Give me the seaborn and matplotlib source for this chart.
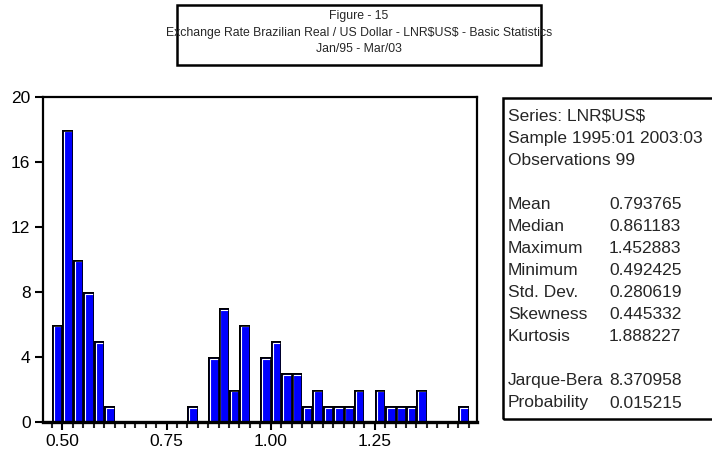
import matplotlib
matplotlib.use("Agg")
import matplotlib.pyplot as plt
import matplotlib.patheffects as pe
from matplotlib.patches import Rectangle
from matplotlib.ticker import MultipleLocator
import numpy as np
import seaborn as sns

# histogram of LNR$US$ (bin width 0.025)
bin_left = [0.475, 0.500, 0.525, 0.550, 0.575, 0.600, 0.625, 0.650, 0.675, 0.700,
            0.725, 0.750, 0.775, 0.800, 0.825, 0.850, 0.875, 0.900, 0.925, 0.950,
            0.975, 1.000, 1.025, 1.050, 1.075, 1.100, 1.125, 1.150, 1.175, 1.200,
            1.225, 1.250, 1.275, 1.300, 1.325, 1.350, 1.375, 1.400, 1.425, 1.450]
counts = [6, 18, 10, 8, 5, 1, 0, 0, 0, 0,
          0, 0, 0, 1, 0, 4, 7, 2, 6, 0,
          4, 5, 3, 3, 1, 2, 1, 1, 1, 2,
          0, 2, 1, 1, 1, 2, 0, 0, 0, 1]
bin_width = 0.025

x_ticks = [0.50, 0.75, 1.00, 1.25]
x_tick_labels = ["0.50", "0.75", "1.00", "1.25"]
y_ticks = [0, 4, 8, 12, 16, 20]

title_lines = ["Figure - 15",
               "Exchange Rate Brazilian Real / US Dollar - LNR\\$US\\$ - Basic Statistics",
               "Jan/95 - Mar/03"]
header_lines = ["Series: LNR\\$US\\$", "Sample 1995:01 2003:03", "Observations 99"]
stat_names = ["Mean", "Median", "Maximum", "Minimum", "Std. Dev.", "Skewness", "Kurtosis"]
stat_values = ["0.793765", "0.861183", "1.452883", "0.492425", "0.280619", "0.445332", "1.888227"]
test_names = ["Jarque-Bera", "Probability"]
test_values = ["8.370958", "0.015215"]

sns.set_style("ticks")
plt.rcParams["font.family"] = ["Liberation Sans", "DejaVu Sans"]

W, H = 712, 454
fig = plt.figure(figsize=(W / 100, H / 100), dpi=100)

def fx(px):
    return px / W

def fy(py):
    return 1 - py / H

# histogram axes
ax = fig.add_axes([fx(43), fy(422), fx(477 - 43), (422 - 97) / H])
centers = np.array(bin_left) + bin_width / 2
sns.histplot(x=centers, weights=counts, binwidth=bin_width,
             binrange=(bin_left[0], bin_left[-1] + bin_width),
             color="#0000ff", alpha=1, edgecolor="black", linewidth=1.0,
             ax=ax)
# eviews-like bevel: white highlight on top/left, black frame
for p in ax.patches:
    p.set_clip_path(p)
    p.set_path_effects([
        pe.PathPatchEffect(facecolor="#0000ff", edgecolor="none"),
        pe.PathPatchEffect(offset=(1.3, -1.3), facecolor="none",
                           edgecolor="white", linewidth=0.8),
        pe.PathPatchEffect(facecolor="none", edgecolor="black", linewidth=1.9),
    ])

ax.set_xlim(0.4532, 1.4954)
ax.set_ylim(0, 20)
ax.set_xticks(x_ticks)
ax.set_xticklabels(x_tick_labels)
ax.set_yticks(y_ticks)
ax.xaxis.set_minor_locator(MultipleLocator(bin_width))
ax.tick_params(axis="both", which="major", direction="out", length=6, width=1.5,
               labelsize=12.5, colors="black", pad=3)
ax.tick_params(axis="x", which="minor", direction="out", length=4, width=1.5)
ax.set_xlabel("")
ax.set_ylabel("")
for s in ax.spines.values():
    s.set_visible(True)
    s.set_linewidth(1.6)
    s.set_color("black")
ax.spines["bottom"].set_linewidth(2.4)

# title box
fig.add_artist(Rectangle((fx(177), fy(65)), fx(541 - 177), (65 - 5) / H,
                         transform=fig.transFigure, fill=False, ec="black", lw=1.8))
fig.text(fx(359), fy(33), "\n".join(title_lines), ha="center", va="center",
         fontsize=8.8, linespacing=1.5)

# stats box
fig.add_artist(Rectangle((fx(503), fy(419)), fx(740 - 503), (419 - 98) / H,
                         transform=fig.transFigure, fill=False, ec="black", lw=1.8,
                         clip_on=False))
rows = header_lines + [""] + stat_names + [""] + test_names
vals = ["", "", ""] + [""] + stat_values + [""] + test_values
step = (403 - 116) / 13
for i, (name, val) in enumerate(zip(rows, vals)):
    y = 116 + i * step
    fig.text(fx(508), fy(y), name, ha="left", va="center", fontsize=12.5)
    if val:
        fig.text(fx(609), fy(y), val, ha="left", va="center", fontsize=12.5)

fig.savefig("out.png", dpi=100)
